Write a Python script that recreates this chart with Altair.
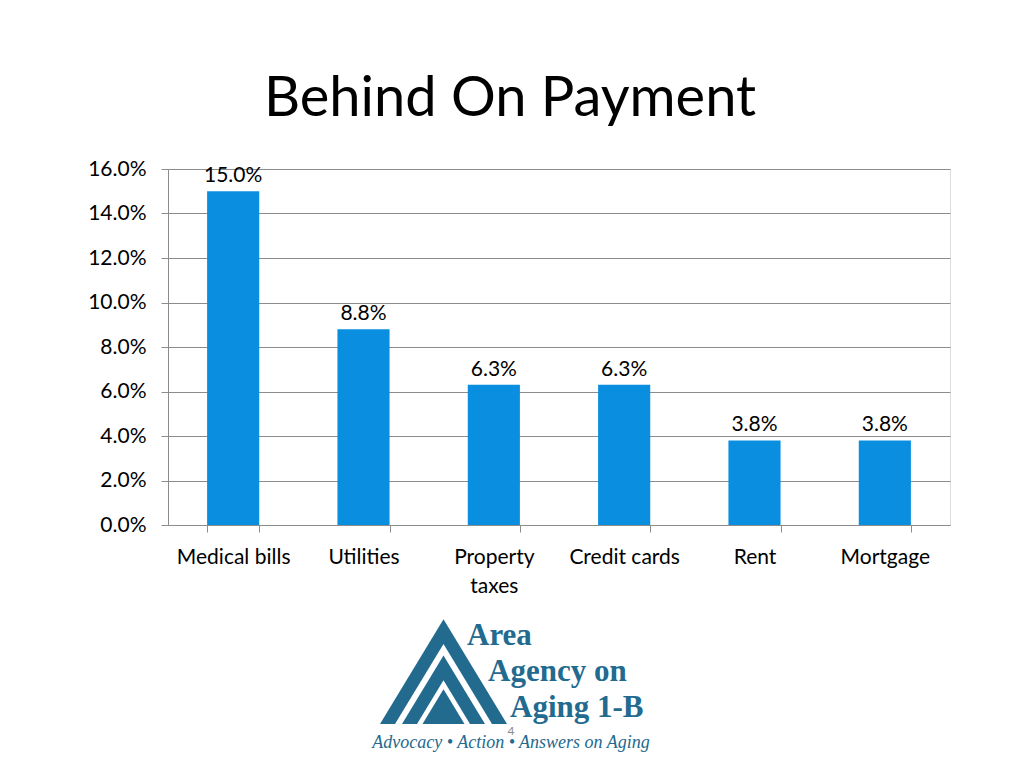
import altair as alt
import pandas as pd

categories = ["Medical bills", "Utilities", "Property taxes", "Credit cards", "Rent", "Mortgage"]
values = [0.150, 0.088, 0.063, 0.063, 0.038, 0.038]
y_ticks = [0.0, 0.02, 0.04, 0.06, 0.08, 0.10, 0.12, 0.14, 0.16]
title_text = "Behind On Payment"

df = pd.DataFrame({"category": categories, "value": values})

BAR = "#0A8FE0"
LOGO = "#236A8F"
FONT = "Lato"
OX, OY = 168, 169

x_enc = alt.X(
    "category:N",
    sort=categories,
    title=None,
    scale=alt.Scale(paddingInner=0.6, paddingOuter=0.3),
    axis=alt.Axis(
        labelAngle=0,
        labelFontSize=21,
        labelFont=FONT,
        labelColor="#000000",
        labelPadding=14,
        labelLineHeight=29,
        labelBaseline="top",
        labelExpr="datum.label == 'Property taxes' ? ['Property', 'taxes'] : datum.label",
        tickBand="extent",
        tickSize=7,
        tickColor="#8C8C8C",
        domainColor="#8C8C8C",
        grid=False,
    ),
)
y_enc = alt.Y(
    "value:Q",
    title=None,
    scale=alt.Scale(domain=[0, 0.16], nice=False),
    axis=alt.Axis(
        values=y_ticks,
        format=".1%",
        labelFontSize=21,
        labelFont=FONT,
        labelColor="#000000",
        labelPadding=15,
        tickSize=7,
        tickColor="#8C8C8C",
        domainColor="#8C8C8C",
        gridColor="#8C8C8C",
        gridWidth=1,
    ),
)

bars = alt.Chart(df).mark_bar(color=BAR).encode(x=x_enc, y=y_enc)
labels = alt.Chart(df).mark_text(
    baseline="alphabetic", dy=-9, fontSize=21, font=FONT, color="#000000"
).encode(
    x=alt.X("category:N", sort=categories),
    y=alt.Y("value:Q"),
    text=alt.Text("value:Q", format=".1%"),
)


def txt(s, x, y, size, font, color, weight="normal", style="normal", align="left"):
    return alt.Chart(pd.DataFrame({"t": [s]})).mark_text(
        text=s, fontSize=size, font=font, color=color, fontWeight=weight,
        fontStyle=style, align=align, baseline="alphabetic"
    ).encode(x=alt.value(x - OX), y=alt.value(y - OY))


title = txt(title_text, 510, 116, 56, FONT, "#000000", align="center")

# Logo (decorative)
tri_path = "M0,-1.65L-1,0L1,0Z"
tri_half = [63.5, 48.5, 41.5, 26.5, 21.0]
tri_cols = [LOGO, "#FFFFFF", LOGO, "#FFFFFF", LOGO]
tri_layers = []
for h, c in zip(tri_half, tri_cols):
    tri_layers.append(
        alt.Chart(pd.DataFrame({"k": [0]})).mark_point(
            shape=tri_path, filled=True, color=c, opacity=1, size=float((2 * h) ** 2), strokeWidth=0
        ).encode(x=alt.value(443.5 - OX), y=alt.value(724 - OY))
    )

logo_text = [
    txt("Area", 467, 645, 31, "Liberation Serif", LOGO, weight="bold"),
    txt("Agency on", 488, 681, 31, "Liberation Serif", LOGO, weight="bold"),
    txt("Aging 1-B", 510, 717, 31, "Liberation Serif", LOGO, weight="bold"),
    txt("Advocacy \u2022 Action \u2022 Answers on Aging", 511, 748, 18, "Liberation Serif", LOGO, style="italic", align="center"),
    txt("4", 511, 735, 12, FONT, "#8A8A8A", align="center"),
]

chart = alt.layer(bars, labels, title, *tri_layers, *logo_text).properties(
    width=782,
    height=356,
    autosize=alt.AutoSizeParams(type="none"),
    padding={"left": 160, "top": 161, "right": 58, "bottom": 230},
).configure_view(stroke=None).configure(background="#FFFFFF")

chart.save("out.html", embed_options={"renderer": "svg", "actions": False})
